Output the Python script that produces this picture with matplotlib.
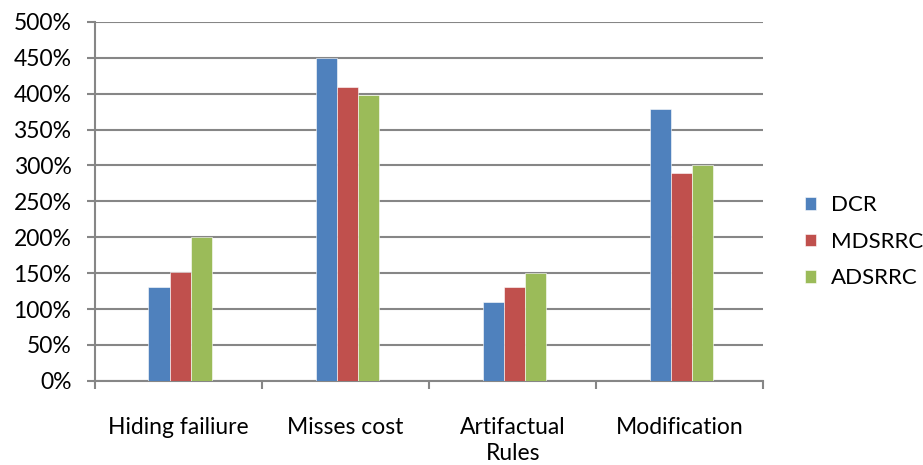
import numpy as np
import matplotlib.pyplot as plt
from matplotlib.ticker import FuncFormatter, MultipleLocator

plt.rcParams['font.family'] = ['Lato', 'DejaVu Sans']

categories = ['Hiding failiure', 'Misses cost', 'Artifactual\nRules', 'Modification']
series = ['DCR', 'MDSRRC', 'ADSRRC']
dcr = [131, 450, 110, 379]
mdsrrc = [151, 409, 131, 289]
adsrrc = [200, 398, 150, 300]
colors = ['#4F81BD', '#C0504D', '#9BBB59']

fig = plt.figure(figsize=(9.23, 4.65), dpi=100)
ax = fig.add_axes([0.103, 0.181, 0.724, 0.772])

x = np.arange(len(categories))
w = 0.127
for i, (name, vals) in enumerate(zip(series, [dcr, mdsrrc, adsrrc])):
    ax.bar(x + (i - 1) * w + 0.01, vals, width=w, color=colors[i], label=name,
           edgecolor='white', linewidth=0.4, zorder=3)

ax.set_xlim(-0.5, len(categories) - 0.5)
ax.set_ylim(0, 500)
ax.yaxis.set_major_locator(MultipleLocator(50))
ax.yaxis.set_major_formatter(FuncFormatter(lambda v, p: f'{v:.0f}%'))
ax.grid(axis='y', color='#868686', linewidth=1.5, zorder=0)

ax.set_xticks(x)
ax.set_xticklabels(categories, linespacing=1.3)
ax.set_xticks(np.arange(-0.5, len(categories)), minor=True)
ax.tick_params(axis='x', which='major', length=0, pad=26, labelsize=16.5)
ax.tick_params(axis='x', which='minor', length=6, width=1.5, color='#868686', direction='out')
ax.tick_params(axis='y', length=6, width=1.5, color='#868686', labelsize=16.5, pad=11)

for s in ['top', 'right']:
    ax.spines[s].set_visible(False)
for s in ['left', 'bottom']:
    ax.spines[s].set_color('#868686')
    ax.spines[s].set_linewidth(1.5)

fig.legend(loc='center left', bbox_to_anchor=(0.85, 0.48), frameon=False,
           fontsize=16, handlelength=0.5, handleheight=0.5,
           labelspacing=0.75, handletextpad=0.7)

fig.savefig('out.png', dpi=100)
